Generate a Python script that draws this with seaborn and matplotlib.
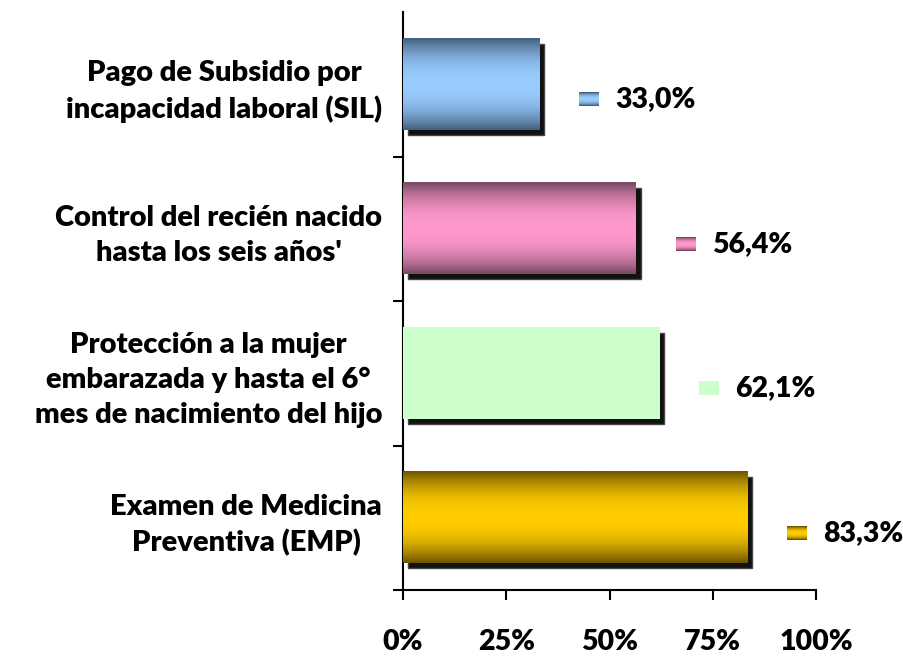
import numpy as np
import pandas as pd
import matplotlib
matplotlib.use("Agg")
import matplotlib.pyplot as plt
import seaborn as sns
from matplotlib.patches import Rectangle
from matplotlib import transforms
from matplotlib.offsetbox import OffsetImage, AnnotationBbox
from matplotlib.colors import to_rgb

categories = [
    "Pago de Subsidio por\nincapacidad laboral (SIL)",
    "Control del recién nacido\nhasta los seis años'",
    "Protección a la mujer\nembarazada y hasta el 6°\nmes de nacimiento del hijo",
    "Examen de Medicina\nPreventiva (EMP)",
]
values = [33.0, 56.4, 62.1, 83.3]
value_labels = ["33,0%", "56,4%", "62,1%", "83,3%"]
x_ticks = [0, 25, 50, 75, 100]
x_tick_labels = ["0%", "25%", "50%", "75%", "100%"]
light_colors = ["#99CCFF", "#FF99CC", "#CCFFCC", "#FFCC00"]
dark_colors = ["#44607F", "#7A4A66", "#CCFFCC", "#6E5500"]

sns.set_theme(style="white")
plt.rcParams['font.family'] = ['Lato', 'DejaVu Sans']
plt.rcParams['font.weight'] = 'heavy'
FW = 'heavy'

W, H = 904, 658
fig = plt.figure(figsize=(W / 100, H / 100), dpi=100)
ax = fig.add_axes([403 / W, 1 - 590 / H, 413 / W, 578 / H])

df = pd.DataFrame({"cat": categories, "val": values})
sns.barplot(data=df, x="val", y="cat", orient="h", width=0.63,
            color="white", saturation=1, ax=ax)


def gradient(light, dark, n=64, w=2):
    t = np.abs(np.linspace(-1, 1, n))
    t = t ** 2.2
    lc, dc = np.array(to_rgb(light)), np.array(to_rgb(dark))
    col = lc[None, :] * (1 - t[:, None]) + dc[None, :] * t[:, None]
    return np.repeat(col[:, None, :], w, axis=1)


shadow_tr = transforms.offset_copy(ax.transData, fig=fig, x=5, y=-5, units='dots')
for i, p in enumerate(ax.patches):
    x0, y0, w, h = p.get_x(), p.get_y(), p.get_width(), p.get_height()
    ax.add_patch(Rectangle((x0, y0), w, h, transform=shadow_tr,
                           facecolor="#111111", edgecolor="#444444", lw=1, zorder=1))
    p.set_zorder(2)
    p.set_edgecolor("none")
    ax.imshow(gradient(light_colors[i], dark_colors[i]), extent=(x0, x0 + w, y0 + h, y0),
              aspect="auto", zorder=3, interpolation="bilinear")
    # legend key + value label
    key = gradient(light_colors[i], dark_colors[i], n=14, w=20)
    ab = AnnotationBbox(OffsetImage(key, zoom=1, dpi_cor=False), (values[i], i),
                        xybox=(50, -15), boxcoords="offset pixels", frameon=False,
                        pad=0, annotation_clip=False)
    ax.add_artist(ab)
    ax.annotate(value_labels[i], (values[i], i), xytext=(76, -15),
                textcoords="offset pixels", ha="left", va="center",
                fontsize=20.5, fontweight=FW, color="black", annotation_clip=False)

ax.set_xlim(0, 100)
ax.set_ylim(3.5, -0.5)
ax.set_xticks(x_ticks)
ax.set_xticklabels(x_tick_labels, fontsize=20.5, fontweight=FW)
ax.set_yticks(range(len(categories)))
ax.set_yticklabels(categories, fontsize=21, fontweight=FW, ha="right",
                   multialignment="center", linespacing=1.4)
ax.set_yticks([0.5, 1.5, 2.5, 3.5], minor=True)
ax.set_xlabel("")
ax.set_ylabel("")

for s in ["top", "right"]:
    ax.spines[s].set_visible(False)
for s in ["left", "bottom"]:
    ax.spines[s].set_color("black")
    ax.spines[s].set_linewidth(1.5)
ax.spines["left"].set_bounds(3.5, -0.5)

ax.tick_params(axis="x", which="major", length=7.2, width=1.5, color="black",
               direction="out", pad=21, labelcolor="black", bottom=True)
ax.tick_params(axis="y", which="major", length=0, pad=15, labelcolor="black")
ax.tick_params(axis="y", which="minor", length=7.2, width=1.5, color="black",
               direction="out", left=True)

fig.savefig("out.png", dpi=100)
